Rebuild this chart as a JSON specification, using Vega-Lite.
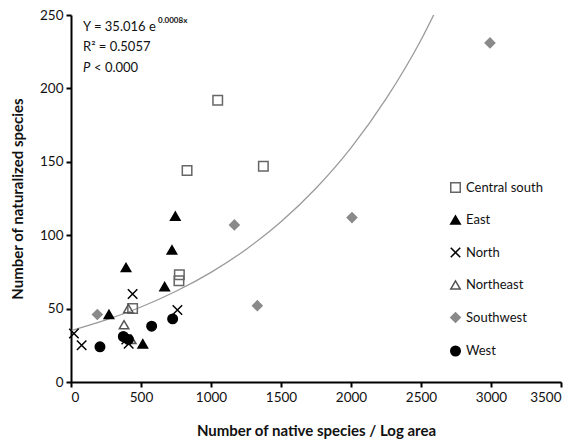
{
  "$schema": "https://vega.github.io/schema/vega-lite/v6.json",
  "width": 490,
  "height": 367,
  "autosize": {"type": "none"},
  "padding": {"left": 71, "top": 15, "right": 13, "bottom": 61},
  "background": "white",
  "config": {
    "view": {"stroke": null},
    "font": "Lato",
    "axis": {
      "domainColor": "black", "domainWidth": 2, "tickColor": "black", "tickWidth": 2, "tickSize": 5,
      "labelFont": "Lato", "labelFontSize": 13.5, "labelColor": "#111",
      "titleFont": "Lato", "titleFontSize": 15, "titleFontWeight": "bold", "titleColor": "#111",
      "grid": false
    }
  },
  "datasets": {
    "pts": [
      {"x": 1048, "y": 192, "region": "Central south"},
      {"x": 829, "y": 144, "region": "Central south"},
      {"x": 1374, "y": 147, "region": "Central south"},
      {"x": 774, "y": 73, "region": "Central south"},
      {"x": 771, "y": 69, "region": "Central south"},
      {"x": 440, "y": 50, "region": "Central south"},
      {"x": 745, "y": 113, "region": "East"},
      {"x": 721, "y": 90, "region": "East"},
      {"x": 393, "y": 78, "region": "East"},
      {"x": 669, "y": 65, "region": "East"},
      {"x": 271, "y": 46, "region": "East"},
      {"x": 513, "y": 26, "region": "East"},
      {"x": 440, "y": 60, "region": "North"},
      {"x": 760, "y": 49, "region": "North"},
      {"x": 21, "y": 33, "region": "North"},
      {"x": 76, "y": 25, "region": "North"},
      {"x": 395, "y": 29, "region": "North"},
      {"x": 412, "y": 26, "region": "North"},
      {"x": 410, "y": 50, "region": "Northeast"},
      {"x": 379, "y": 39, "region": "Northeast"},
      {"x": 430, "y": 29, "region": "Northeast"},
      {"x": 188, "y": 46, "region": "Southwest"},
      {"x": 1167, "y": 107, "region": "Southwest"},
      {"x": 1331, "y": 52, "region": "Southwest"},
      {"x": 2007, "y": 112, "region": "Southwest"},
      {"x": 2993, "y": 231, "region": "Southwest"},
      {"x": 207, "y": 24, "region": "West"},
      {"x": 374, "y": 31, "region": "West"},
      {"x": 410, "y": 29, "region": "West"},
      {"x": 576, "y": 38, "region": "West"},
      {"x": 726, "y": 43, "region": "West"}
    ],
    "curve": [
      {"x": 0, "y": 35},
      {"x": 250, "y": 42.3},
      {"x": 500, "y": 51.1},
      {"x": 750, "y": 61.8},
      {"x": 1000, "y": 74.7},
      {"x": 1250, "y": 90.3},
      {"x": 1500, "y": 109.2},
      {"x": 1750, "y": 132},
      {"x": 2000, "y": 159.5},
      {"x": 2250, "y": 192.8},
      {"x": 2500, "y": 233},
      {"x": 2750, "y": 282}
    ],
    "ann": [
      {"x": 86, "y": 241.6, "t": "Y = 35.016 e"},
      {"x": 86, "y": 228, "t": "R² = 0.5057"}
    ],
    "sup": [{"x": 86, "y": 246, "t": "0.0008x"}],
    "pl": [{"x": 86, "y": 214, "t": "P"}],
    "pr": [{"x": 86, "y": 214, "t": "< 0.000"}]
  },
  "encoding": {
    "x": {"field": "x", "type": "quantitative", "scale": {"domain": [0, 3500], "nice": false},
      "axis": {"values": [0, 500, 1000, 1500, 2000, 2500, 3000, 3500], "format": "d", "title": "Number of native species / Log area", "titlePadding": 20, "labelPadding": 3}},
    "y": {"field": "y", "type": "quantitative", "scale": {"domain": [0, 250], "nice": false},
      "axis": {"values": [0, 50, 100, 150, 200, 250], "format": "d", "title": "Number of naturalized species", "titlePadding": 14, "labelPadding": 3}}
  },
  "layer": [
    {
      "data": {"name": "curve"},
      "mark": {"type": "line", "color": "#9a9a9a", "strokeWidth": 1.3, "clip": true, "interpolate": "monotone"},
      "encoding": {}
    },
    {
      "data": {"name": "pts"},
      "mark": {"type": "point", "filled": false, "size": 90, "strokeWidth": 1.5, "opacity": 1},
      "encoding": {
        "shape": {"field": "region", "type": "nominal",
          "scale": {"domain": ["Central south", "East", "North", "Northeast", "Southwest", "West"],
            "range": ["square", "triangle-up", "M-1,-1L1,1M-1,1L1,-1", "triangle-up", "diamond", "circle"]},
          "legend": {"title": null, "orient": "none", "legendX": 378, "legendY": 166, "labelFontSize": 13, "labelFont": "Lato", "labelColor": "#111", "rowPadding": 16.5, "symbolSize": 90, "symbolStrokeWidth": 1.5, "labelOffset": 4}},
        "fill": {"field": "region", "type": "nominal",
          "scale": {"domain": ["Central south", "East", "North", "Northeast", "Southwest", "West"],
            "range": ["transparent", "black", "transparent", "transparent", "#8a8a8a", "black"]}},
        "stroke": {"field": "region", "type": "nominal",
          "scale": {"domain": ["Central south", "East", "North", "Northeast", "Southwest", "West"],
            "range": ["#666666", "black", "black", "#555555", "#8a8a8a", "black"]}}
      }
    },
    {
      "data": {"name": "ann"},
      "mark": {"type": "text", "align": "left", "baseline": "middle", "fontSize": 13, "font": "Lato", "color": "#111"},
      "encoding": {"text": {"field": "t"}}
    },
    {
      "data": {"name": "sup"},
      "mark": {"type": "text", "align": "left", "baseline": "middle", "fontSize": 8, "font": "Lato", "fontWeight": "bold", "color": "#111", "dx": 75},
      "encoding": {"text": {"field": "t"}}
    },
    {
      "data": {"name": "pl"},
      "mark": {"type": "text", "align": "left", "baseline": "middle", "fontSize": 13, "font": "Lato", "fontStyle": "italic", "color": "#111"},
      "encoding": {"text": {"field": "t"}}
    },
    {
      "data": {"name": "pr"},
      "mark": {"type": "text", "align": "left", "baseline": "middle", "fontSize": 13, "font": "Lato", "color": "#111", "dx": 11},
      "encoding": {"text": {"field": "t"}}
    }
  ]
}
